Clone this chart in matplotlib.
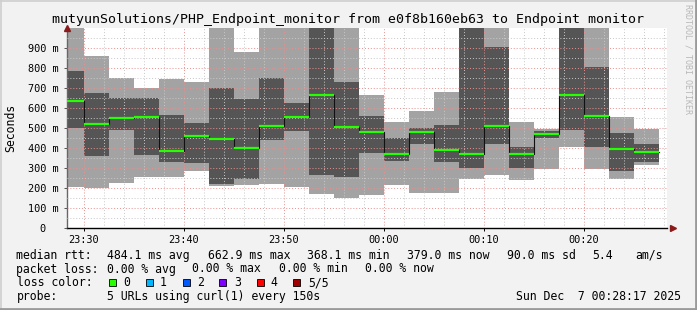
import matplotlib
matplotlib.use("Agg")
import matplotlib.pyplot as plt
import matplotlib.dates as mdates
from matplotlib.lines import Line2D
from matplotlib.patches import Rectangle
import numpy as np
from datetime import datetime, timedelta

# ---------------- data (ms) ----------------
bin_start = datetime(2025, 12, 6, 23, 27, 30)
step_s = 150
ping_max = [1050, 859, 751, 701, 744, 731, 1080, 880, 1120, 1060, 1400, 1090,
            664, 530, 585, 679, 1350, 1100, 530, 497, 1300, 1070, 555, 495]
ping_q3 = [784, 674, 649, 649, 565, 525, 701, 645, 751, 625, 1150, 729,
           560, 450, 500, 515, 1120, 904, 405, 485, 1100, 804, 475, 420]
median = [635, 522, 551, 556, 385, 462, 447, 402, 512, 556, 664, 505,
          482, 372, 482, 390, 372, 512, 372, 472, 664, 561, 395, 382]
ping_q1 = [502, 362, 490, 365, 332, 327, 221, 246, 440, 485, 266, 256,
           375, 337, 420, 332, 301, 420, 301, 452, 490, 405, 286, 331]
ping_min = [206, 201, 228, 256, 256, 287, 211, 216, 221, 206, 173, 153,
            166, 216, 178, 178, 248, 266, 243, 296, 405, 296, 246, 316]

ytick_vals = [0, 100, 200, 300, 400, 500, 600, 700, 800, 900]
ytick_labels = ["0  ", "100 m", "200 m", "300 m", "400 m", "500 m",
                "600 m", "700 m", "800 m", "900 m"]

title = "mutyunSolutions/PHP_Endpoint_monitor from e0f8b160eb63 to Endpoint monitor"
loss_labels = ["0", "1", "2", "3", "4", "5/5"]
loss_colors = ["#26ff00", "#00b8ff", "#0059ff", "#7e00ff", "#ff0000", "#a00000"]

# ---------------- figure ----------------
W, H = 697, 310
fig = plt.figure(figsize=(W / 100, H / 100), dpi=100)
fig.patch.set_facecolor("#f2f2f2")
MONO = "DejaVu Sans Mono"

def fx(px):
    return px / W

def fy(py):
    return 1 - py / H

ax = fig.add_axes([fx(66.5), fy(228.3), 600 / W, 200.6 / H])
ax.set_facecolor("white")

n = len(median)
edges = [bin_start + timedelta(seconds=step_s * k) for k in range(n + 1)]
x = mdates.date2num(edges)

def ext(v):
    v = np.asarray(v, dtype=float)
    return np.append(v, v[-1])

ax.fill_between(x, ext(ping_min), ext(ping_max), step="post",
                color="#a3a3a3", lw=0, zorder=1)
ax.fill_between(x, ext(ping_q1), ext(ping_q3), step="post",
                color="#555555", lw=0, zorder=1.1)

# thin dark step line through medians
ax.step(x, ext(median), where="post", color="#111111", lw=0.8, zorder=3)
# thick loss-coloured horizontal median segments
for i in range(n):
    ax.plot([x[i], x[i + 1]], [median[i], median[i]], color=loss_colors[0],
            lw=1.6, solid_capstyle="butt", zorder=4)

t0 = datetime(2025, 12, 6, 23, 28, 17)
ax.set_xlim(mdates.date2num(t0), mdates.date2num(t0 + timedelta(hours=1)))
ax.set_ylim(0, 1000)

ax.xaxis.set_major_locator(mdates.MinuteLocator(byminute=range(0, 60, 10)))
ax.xaxis.set_minor_locator(mdates.MinuteLocator(byminute=range(0, 60, 2)))
ax.xaxis.set_major_formatter(mdates.DateFormatter("%H:%M"))
ax.set_yticks(ytick_vals)
ax.set_yticklabels(ytick_labels)
ax.set_yticks(np.arange(0, 1000, 50), minor=True)

ax.set_axisbelow(False)
ax.grid(which="minor", color="#c8c8c8", lw=0.7, ls=(0, (1, 2)))
ax.grid(which="major", color="#e89090", lw=0.7, ls=(0, (1, 2)))

for lab in ax.get_xticklabels() + ax.get_yticklabels():
    lab.set_family(MONO)
    lab.set_fontsize(7.4)
ax.tick_params(axis="x", which="major", length=2, width=0.7, pad=2.5, color="#000000")
ax.tick_params(axis="y", which="major", length=2, width=0.7, pad=3.5, color="#555555")
ax.tick_params(which="minor", length=0)

for s in ["top", "right"]:
    ax.spines[s].set_visible(False)
ax.spines["bottom"].set_color("black")
ax.spines["bottom"].set_linewidth(1.0)
ax.spines["left"].set_color("#666666")
ax.spines["left"].set_linewidth(1.0)

# axis arrows
ax.plot([0], [1.0], marker="^", color="#8b1a1a", ms=4, transform=ax.transAxes,
        clip_on=False, zorder=6)
ax.plot([1.01], [0], marker=">", color="#8b1a1a", ms=4, transform=ax.transAxes,
        clip_on=False, zorder=6)

# ---------------- texts ----------------
fig.text(fx(347.8), fy(19), title, ha="center", va="center", family=MONO,
         fontsize=9.55, color="black")
fig.text(fx(11), fy(128), "Seconds", rotation=90, ha="center", va="center",
         family=MONO, fontsize=8.3, color="black")
fig.text(fx(688), fy(4), "RRDTOOL / TOBI OETIKER", rotation=270, ha="center",
         va="top", family=MONO, fontsize=6.0, color="#b8b8b8")

LF = 8.3
def legtext(px, py, s, ha="left"):
    fig.text(fx(px), fy(py), s, ha=ha, va="center", family=MONO, fontsize=LF,
             color="black")

y1, y2, y3, y4 = 255.5, 269.0, 282.7, 296.2
legtext(16.4, y1, "median rtt:")
for px, s in [(107.1, "484.1 ms avg"), (207.6, "662.9 ms max"),
              (306.7, "368.1 ms min"), (406.7, "379.0 ms now"),
              (506.7, "90.0 ms sd"), (592.4, "5.4"), (635.6, "am/s")]:
    legtext(px, y1, s)
legtext(16.4, y2, "packet loss:")
for px, s in [(107.1, "0.00 % avg"), (192.0, "0.00 % max"),
              (279.0, "0.00 % min"), (365.3, "0.00 % now")]:
    legtext(px, y2, s)
legtext(16.7, y3, "loss color:")
box_x = [108.7, 145.7, 182.7, 219.3, 256.7, 293.3]
lab_x = [123.3, 160.0, 197.3, 234.0, 270.7, 308.3]
for bx, lx, c, lab in zip(box_x, lab_x, loss_colors, loss_labels):
    fig.patches.append(Rectangle((fx(bx), fy(y3 + 3.5)), 7 / W, 7 / H,
                                 transform=fig.transFigure, facecolor=c,
                                 edgecolor="black", lw=0.6, figure=fig))
    legtext(lx, y3, lab)
legtext(16.7, y4, "probe:")
legtext(107.3, y4, "5 URLs using curl(1) every 150s")
legtext(680.5, y4, "Sun Dec  7 00:28:17 2025", ha="right")

# 3D-ish frame
fig.lines.append(Line2D([0, 1], [fy(0.5), fy(0.5)], transform=fig.transFigure,
                        color="#cfcfcf", lw=1.2, figure=fig))
fig.lines.append(Line2D([fx(0.5), fx(0.5)], [0, 1], transform=fig.transFigure,
                        color="#cfcfcf", lw=1.2, figure=fig))
fig.lines.append(Line2D([0, 1], [fy(H - 1.2), fy(H - 1.2)], transform=fig.transFigure,
                        color="#9a9a9a", lw=2.0, figure=fig))
fig.lines.append(Line2D([fx(W - 1.2), fx(W - 1.2)], [0, 1], transform=fig.transFigure,
                        color="#9a9a9a", lw=2.0, figure=fig))

fig.savefig("out.png", dpi=100, facecolor=fig.get_facecolor())
